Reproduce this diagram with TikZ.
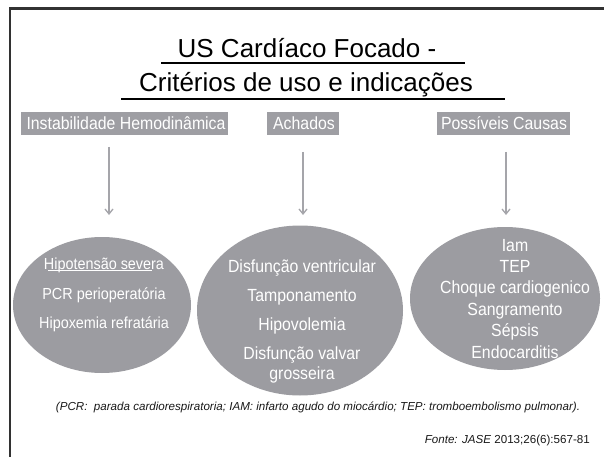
\documentclass[tikz,border=0pt]{standalone}
\usepackage{fontspec}
\setmainfont{Liberation Sans}
\newfontfamily\narrowsans[FakeStretch=0.9]{Liberation Sans}
\usetikzlibrary{shapes.geometric,arrows.meta}
\definecolor{framec}{RGB}{50,50,50}
\definecolor{boxc}{RGB}{158,158,163}
\definecolor{ellc}{RGB}{156,156,161}
\definecolor{arrc}{RGB}{165,165,170}
\tikzset{
  titletxt/.style={anchor=base,inner sep=0pt,text=black,font=\fontsize{26}{30}\selectfont},
  hdrbox/.style={rectangle,fill=boxc,inner sep=0pt,minimum height=23pt},
  hdrtxt/.style={anchor=base,inner sep=0pt,text=white,font=\narrowsans\fontsize{17.6}{20}\selectfont},
  blob/.style={ellipse,fill=ellc,inner sep=0pt},
  ltxt/.style={anchor=base,inner sep=0pt,text=white,font=\narrowsans\fontsize{17.6}{20}\selectfont},
  stxt/.style={anchor=base,inner sep=0pt,text=white,font=\narrowsans\fontsize{16}{18}\selectfont},
  arr/.style={draw=arrc,line width=1.3pt,-{Straight Barb[length=5pt,width=8pt]}},
  uline/.style={line width=1.2pt,black}
}
\begin{document}
\begin{tikzpicture}[x=1pt,y=-1pt]
\useasboundingbox (0,0) rectangle (604,457);
\fill[white] (0,0) rectangle (604,457);
% frame
\draw[framec,line width=2.8pt] (10,457) -- (10,8.8) -- (604,8.8);
% title
\node[titletxt] (t1) at (307,58) {US Cardíaco Focado -};
\node[titletxt] (t2) at (306,92) {Critérios de uso e indicações};
\coordinate (u1a) at (161,63); \coordinate (u1b) at (465,63);
\coordinate (u2a) at (121,99); \coordinate (u2b) at (505,99);
\draw[uline] (u1a) -- (u1b);
\draw[uline] (u2a) -- (u2b);
% header boxes
\node[hdrbox,minimum width=207pt] (b1) at (124.5,123.5) {};
\node[hdrbox,minimum width=72pt] (b2) at (303,123.5) {};
\node[hdrbox,minimum width=133pt] (b3) at (503.5,123.5) {};
\node[hdrtxt] (b1t) at (126,130) {Instabilidade Hemodinâmica};
\node[hdrtxt] (b2t) at (304,130) {Achados};
\node[hdrtxt] (b3t) at (504,130) {Possíveis Causas};
% arrows
\coordinate (a1s) at (109,147); \coordinate (a1e) at (109,215);
\coordinate (a2s) at (303,152); \coordinate (a2e) at (303,215);
\coordinate (a3s) at (506,152); \coordinate (a3e) at (506,215);
\draw[arr] (a1s) -- (a1e);
\draw[arr] (a2s) -- (a2e);
\draw[arr] (a3s) -- (a3e);
% ellipses
\node[blob,minimum width=178pt,minimum height=136pt] (e1) at (102,305) {};
\node[blob,minimum width=206pt,minimum height=170pt] (e2) at (300,310.5) {};
\node[blob,minimum width=190pt,minimum height=143pt] (e3) at (505,298.5) {};
% ellipse 1 text
\node[stxt] (e1l1) at (104,269) {Hipotensão severa};
\node[stxt] (e1l2) at (104,299) {PCR perioperatória};
\node[stxt] (e1l3) at (104,328) {Hipoxemia refratária};
\coordinate (hu1) at (48,270.5); \coordinate (hu2) at (152,270.5);
\draw[white,line width=0.8pt] (hu1) -- (hu2);
% ellipse 2 text
\node[ltxt] (e2l1) at (302,272.5) {Disfunção ventricular};
\node[ltxt] (e2l2) at (302,301.5) {Tamponamento};
\node[ltxt] (e2l3) at (302,330.5) {Hipovolemia};
\node[ltxt] (e2l4) at (302,359) {Disfunção valvar};
\node[ltxt] (e2l5) at (302,379.5) {grosseira};
% ellipse 3 text
\node[ltxt] (e3l1) at (515,251) {Iam};
\node[ltxt] (e3l2) at (515,272.4) {TEP};
\node[ltxt] (e3l3) at (515,293.8) {Choque cardiogenico};
\node[ltxt] (e3l4) at (515,315.2) {Sangramento};
\node[ltxt] (e3l5) at (515,336.6) {Sépsis};
\node[ltxt] (e3l6) at (515,358) {Endocarditis};
% footnotes
\node[anchor=base,inner sep=0pt,text=black!90,font=\fontsize{11.6}{13}\selectfont\itshape] (fn) at (318,410) {(PCR:\ \ parada cardiorespiratoria; IAM: infarto agudo do miocárdio; TEP: tromboembolismo pulmonar).};
\node[anchor=base east,inner sep=0pt,text=black!90,font=\fontsize{11.6}{13}\selectfont] (src) at (590,443) {\textit{Fonte: JASE} 2013;26(6):567-81};
\end{tikzpicture}
\end{document}
